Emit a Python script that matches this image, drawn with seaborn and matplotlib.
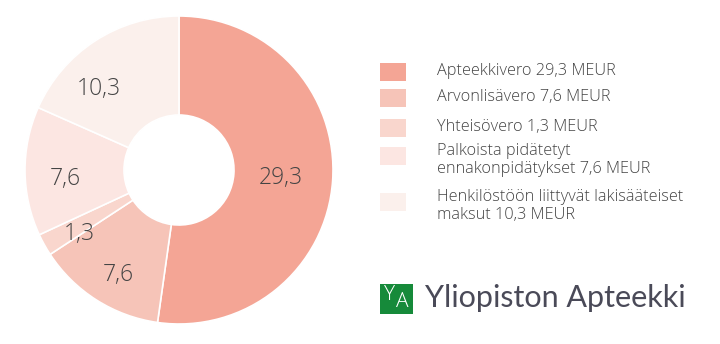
import matplotlib
matplotlib.use("Agg")
import matplotlib.pyplot as plt
from matplotlib.patches import Rectangle
import seaborn as sns

# ---- data ----
values = [29.3, 7.6, 1.3, 7.6, 10.3]
value_labels = ["29,3", "7,6", "1,3", "7,6", "10,3"]
legend_labels = [
    "Apteekkivero 29,3 MEUR",
    "Arvonlisävero 7,6 MEUR",
    "Yhteisövero 1,3 MEUR",
    "Palkoista pidätetyt\nennakonpidätykset 7,6 MEUR",
    "Henkilöstöön liittyvät lakisääteiset\nmaksut 10,3 MEUR",
]
colors = ["#F4A595", "#F6C4B8", "#F9D6CD", "#FCE6E2", "#FBF0EC"]
logo_text = "Yliopiston Apteekki"

sns.set_theme(style="white")
plt.rcParams["font.family"] = ["Open Sans", "DejaVu Sans"]

W, H = 720, 344
fig = plt.figure(figsize=(W / 100, H / 100), dpi=100)
fig.patch.set_facecolor("white")

def px_axes(x0, y0, w, h):
    return fig.add_axes([x0 / W, 1 - (y0 + h) / H, w / W, h / H])

# ---- donut ----
cx, cy, r = 179, 170, 154
ax = px_axes(cx - r, cy - r, 2 * r, 2 * r)
wedges, texts = ax.pie(
    values, colors=colors, startangle=90, counterclock=False,
    labels=value_labels, labeldistance=0.74,
    wedgeprops=dict(width=1 - 55 / 154, edgecolor="white", linewidth=1.2),
    textprops=dict(fontsize=16.5, color="#444444", fontweight="light",
                   ha="center", va="center"),
)
texts[0].set_position((0.66, -0.05))
for t in texts[1:]:
    x, y = t.get_position()
    t.set_position((x, y - 0.055))
x, y = texts[-1].get_position()
texts[-1].set_position((x - 0.12, y - 0.04))
ax.set_xlim(-1, 1)
ax.set_ylim(-1, 1)
ax.set_aspect("equal")
ax.axis("off")

# ---- legend ----
row_y = [72, 98, 128, 156, 202]
for lab, col, y in zip(legend_labels, colors, row_y):
    fig.patches.append(Rectangle(((380) / W, 1 - (y + 9) / H), 26 / W, 18 / H,
                                 transform=fig.transFigure, facecolor=col,
                                 edgecolor="none"))
    if "\n" in lab:
        fig.text(437 / W, 1 - (y - 13) / H, lab, ha="left", va="top",
                 fontsize=11.7, color="#444444", fontweight="light",
                 linespacing=1.2)
    else:
        fig.text(437 / W, 1 - (y - 1) / H, lab, ha="left", va="center",
                 fontsize=11.7, color="#444444", fontweight="light")

# ---- logo ----
fig.patches.append(Rectangle((380 / W, 1 - 314 / H), 33 / W, 30 / H,
                             transform=fig.transFigure, facecolor="#168A3A",
                             edgecolor="none"))
fig.text(389 / W, 1 - 295 / H, "Y", ha="center", va="center",
         fontsize=15, color="white", family=["Open Sans", "DejaVu Sans"],
         fontweight="light")
fig.text(402 / W, 1 - 302 / H, "A", ha="center", va="center",
         fontsize=15, color="white", family=["Open Sans", "DejaVu Sans"],
         fontweight="light")
fig.text(425 / W, 1 - 298 / H, logo_text, ha="left", va="center",
         fontsize=22, color="#4A4A58", family=["Lato", "DejaVu Sans"])

fig.savefig("out.png", dpi=100, facecolor="white")
